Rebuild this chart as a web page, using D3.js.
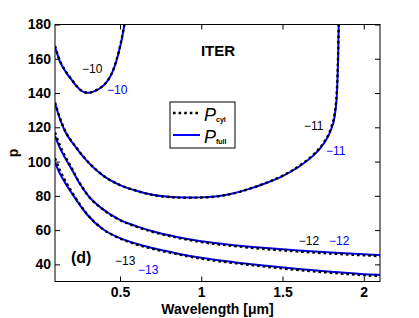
<!DOCTYPE html>
<html>
<head>
<meta charset="utf-8">
<script src="https://cdn.jsdelivr.net/npm/d3@7"></script>
<style>
  body { margin: 0; background: #fff; }
  text { font-family: Arial, "Liberation Sans", Helvetica, sans-serif; }
</style>
</head>
<body>
<div id="chart"></div>
<script>
// Set height and width for svg
var svgWidth = 419;
var svgHeight = 318;

var margin = { top: 24.5, right: 39, bottom: 36.5, left: 55 };

var width = svgWidth - margin.left - margin.right;
var height = svgHeight - margin.top - margin.bottom;

// axis ticks
var xTicks = [0.5, 1, 1.5, 2];
var yTicks = [40, 60, 80, 100, 120, 140, 160, 180];

// curve -10 (closed U near the top left)
var lam10 = [0.1, 0.13, 0.172, 0.2, 0.234, 0.26, 0.285, 0.31, 0.34, 0.377, 0.41, 0.439, 0.465, 0.49, 0.51, 0.527];
var full10 = [167, 158.5, 151.5, 148, 143.9, 141.5, 140.3, 140.2, 141, 142.8, 145.5, 149.5, 155, 163, 171, 180];
var cyl10 = [167.5, 159, 151.8, 148.2, 144, 141.6, 140.4, 140.3, 141.1, 142.9, 145.6, 149.6, 155.2, 163.3, 171.4, 180];

// curve -11 (wide U)
var lam11 = [0.1, 0.13, 0.16, 0.217, 0.3, 0.4, 0.5, 0.6, 0.7, 0.8, 0.9, 1.0, 1.1, 1.2, 1.3, 1.4, 1.5, 1.6, 1.7, 1.75, 1.8, 1.82, 1.835, 1.842, 1.846];
var full11 = [134, 125, 118, 109.7, 100, 91.5, 86.3, 83, 80.6, 79.4, 79, 79.1, 79.8, 81.5, 84.2, 87.5, 91.5, 97, 104.5, 110, 119, 126, 140, 160, 180];
var cyl11 = [134.5, 125.5, 118.4, 110, 100.2, 91.6, 86.3, 83, 80.5, 79.3, 78.9, 79, 79.7, 81.4, 84.2, 87.6, 91.7, 97.3, 105, 110.6, 120, 127.5, 142, 162, 180];

// curve -12
var lam12 = [0.1, 0.13, 0.16, 0.2, 0.25, 0.3, 0.4, 0.5, 0.6, 0.7, 0.85, 1.0, 1.2, 1.4, 1.6, 1.8, 2.0, 2.1];
var full12 = [115, 108, 102.5, 96, 87.5, 80.5, 71.8, 66, 62.3, 59.3, 56, 53.5, 51.2, 49.5, 48.1, 46.9, 45.9, 45.4];
var cyl12 = [117, 109.5, 103.5, 96.6, 87.8, 80.6, 71.7, 65.8, 62, 59, 55.6, 53, 50.7, 48.9, 47.5, 46.3, 45.3, 44.8];

// curve -13
var lam13 = [0.1, 0.13, 0.16, 0.2, 0.25, 0.3, 0.4, 0.5, 0.6, 0.7, 0.85, 1.0, 1.2, 1.4, 1.6, 1.8, 2.0, 2.1];
var full13 = [99.5, 93, 88, 82, 75, 68.8, 60.2, 55.3, 52, 49.5, 46.4, 43.8, 41.3, 39.2, 37.3, 35.7, 34.3, 33.8];
var cyl13 = [102, 95, 89.3, 82.8, 75.4, 69, 60.2, 55.1, 51.7, 49.1, 46, 43.3, 40.8, 38.6, 36.7, 35.1, 33.7, 33.2];

// curve labels: [text, lambda, p, colour]
var curveLabels = [
  ["\u221210", 0.266, 151.7, "#000"],
  ["\u221210", 0.42, 139.4, "#0000ff"],
  ["\u221211", 1.632, 118.4, "#000"],
  ["\u221211", 1.768, 103.8, "#0000ff"],
  ["\u221212", 1.6, 51.3, "#000"],
  ["\u221212", 1.786, 51.3, "#0000ff"],
  ["\u221213", 0.469, 39.6, "#000"],
  ["\u221213", 0.611, 34.3, "#0000ff"]
];

var curves = [
  { lam: lam10, full: full10, cyl: cyl10 },
  { lam: lam11, full: full11, cyl: cyl11 },
  { lam: lam12, full: full12, cyl: cyl12 },
  { lam: lam13, full: full13, cyl: cyl13 }
];

var svg = d3
  .select("#chart")
  .append("svg")
  .attr("width", svgWidth)
  .attr("height", svgHeight);

var chartGroup = svg
  .append("g")
  .attr("transform", `translate(${margin.left}, ${margin.top})`);

var xScale = d3.scaleLinear().domain([0.1, 2.1]).range([0, width]);
var yScale = d3.scaleLinear().domain([30, 180]).range([height, 0]);

svg.append("defs")
  .append("clipPath")
  .attr("id", "plotClip")
  .append("rect")
  .attr("width", width)
  .attr("height", height);

// axes: inward ticks on all four sides
function styleAxis(g) {
  g.select(".domain").remove();
  g.selectAll(".tick line").attr("stroke", "#000").attr("stroke-width", 1);
  g.selectAll(".tick text")
    .attr("fill", "#000")
    .attr("font-size", 14)
    .attr("font-weight", "bold")
    .attr("font-family", "Arial, 'Liberation Sans', sans-serif");
}

chartGroup.append("g")
  .attr("transform", `translate(0, ${height})`)
  .call(d3.axisBottom(xScale).tickValues(xTicks).tickSize(-5).tickPadding(6)
    .tickFormat(d => d === 1 || d === 2 ? d3.format("d")(d) : d))
  .call(styleAxis);

chartGroup.append("g")
  .call(d3.axisTop(xScale).tickValues(xTicks).tickSize(-5).tickFormat(""))
  .call(styleAxis);

chartGroup.append("g")
  .call(d3.axisLeft(yScale).tickValues(yTicks).tickSize(-5).tickPadding(4))
  .call(styleAxis);

chartGroup.append("g")
  .attr("transform", `translate(${width}, 0)`)
  .call(d3.axisRight(yScale).tickValues(yTicks).tickSize(-5).tickFormat(""))
  .call(styleAxis);

// curves
var plot = chartGroup.append("g").attr("clip-path", "url(#plotClip)");

function lineFor(key) {
  return d3.line()
    .x(d => xScale(d.lam))
    .y(d => yScale(d[key]))
    .curve(d3.curveMonotoneX);
}

curves.forEach(function(c) {
  var pts = c.lam.map((l, i) => ({ lam: l, full: c.full[i], cyl: c.cyl[i] }));
  plot.append("path")
    .datum(pts)
    .attr("d", lineFor("full"))
    .attr("fill", "none")
    .attr("stroke", "#0000ff")
    .attr("stroke-width", 2);
  plot.append("path")
    .datum(pts)
    .attr("d", lineFor("cyl"))
    .attr("fill", "none")
    .attr("stroke", "#000")
    .attr("stroke-width", 2.4)
    .attr("stroke-dasharray", "2.6,3");
});

// frame
chartGroup.append("rect")
  .attr("width", width)
  .attr("height", height)
  .attr("fill", "none")
  .attr("stroke", "#000")
  .attr("stroke-width", 1);

// curve labels
chartGroup.selectAll(".clabel")
  .data(curveLabels)
  .enter()
  .append("text")
  .attr("class", "clabel")
  .attr("x", d => xScale(d[1]))
  .attr("y", d => yScale(d[2]))
  .attr("fill", d => d[3])
  .attr("font-size", 12)
  .text(d => d[0]);

// ITER and (d)
chartGroup.append("text")
  .attr("x", xScale(0.998))
  .attr("y", yScale(161.6))
  .attr("font-size", 15)
  .attr("font-weight", "bold")
  .text("ITER");

chartGroup.append("text")
  .attr("x", xScale(0.198))
  .attr("y", yScale(40.8))
  .attr("font-size", 16)
  .attr("font-weight", "bold")
  .text("(d)");

// axis titles
svg.append("text")
  .attr("x", margin.left + width / 2)
  .attr("y", 314)
  .attr("text-anchor", "middle")
  .attr("font-size", 14)
  .attr("font-weight", "bold")
  .text("Wavelength [\u03bcm]");

svg.append("text")
  .attr("transform", `translate(18, ${margin.top + height / 2}) rotate(-90)`)
  .attr("text-anchor", "middle")
  .attr("font-size", 14)
  .attr("font-weight", "bold")
  .text("p");

// legend
var legend = svg.append("g").attr("transform", "translate(170, 102)");
legend.append("rect")
  .attr("width", 65)
  .attr("height", 46)
  .attr("fill", "#fff")
  .attr("stroke", "#000")
  .attr("stroke-width", 1);

var legendRows = [
  { y: 11, sub: "cyl", color: "#000", dash: "2.6,3", w: 2.4 },
  { y: 33, sub: "full", color: "#0000ff", dash: null, w: 2 }
];
legendRows.forEach(function(r) {
  legend.append("line")
    .attr("x1", 3).attr("x2", 30)
    .attr("y1", r.y).attr("y2", r.y)
    .attr("stroke", r.color)
    .attr("stroke-width", r.w)
    .attr("stroke-dasharray", r.dash);
  legend.append("text")
    .attr("x", 34)
    .attr("y", r.y + 8)
    .attr("font-family", "'DejaVu Serif', serif")
    .attr("font-style", "italic")
    .attr("font-size", 18)
    .text("P");
  legend.append("text")
    .attr("x", 46)
    .attr("y", r.y + 9)
    .attr("font-size", 7)
    .attr("font-weight", "bold")
    .text(r.sub);
});
</script>
</body>
</html>
